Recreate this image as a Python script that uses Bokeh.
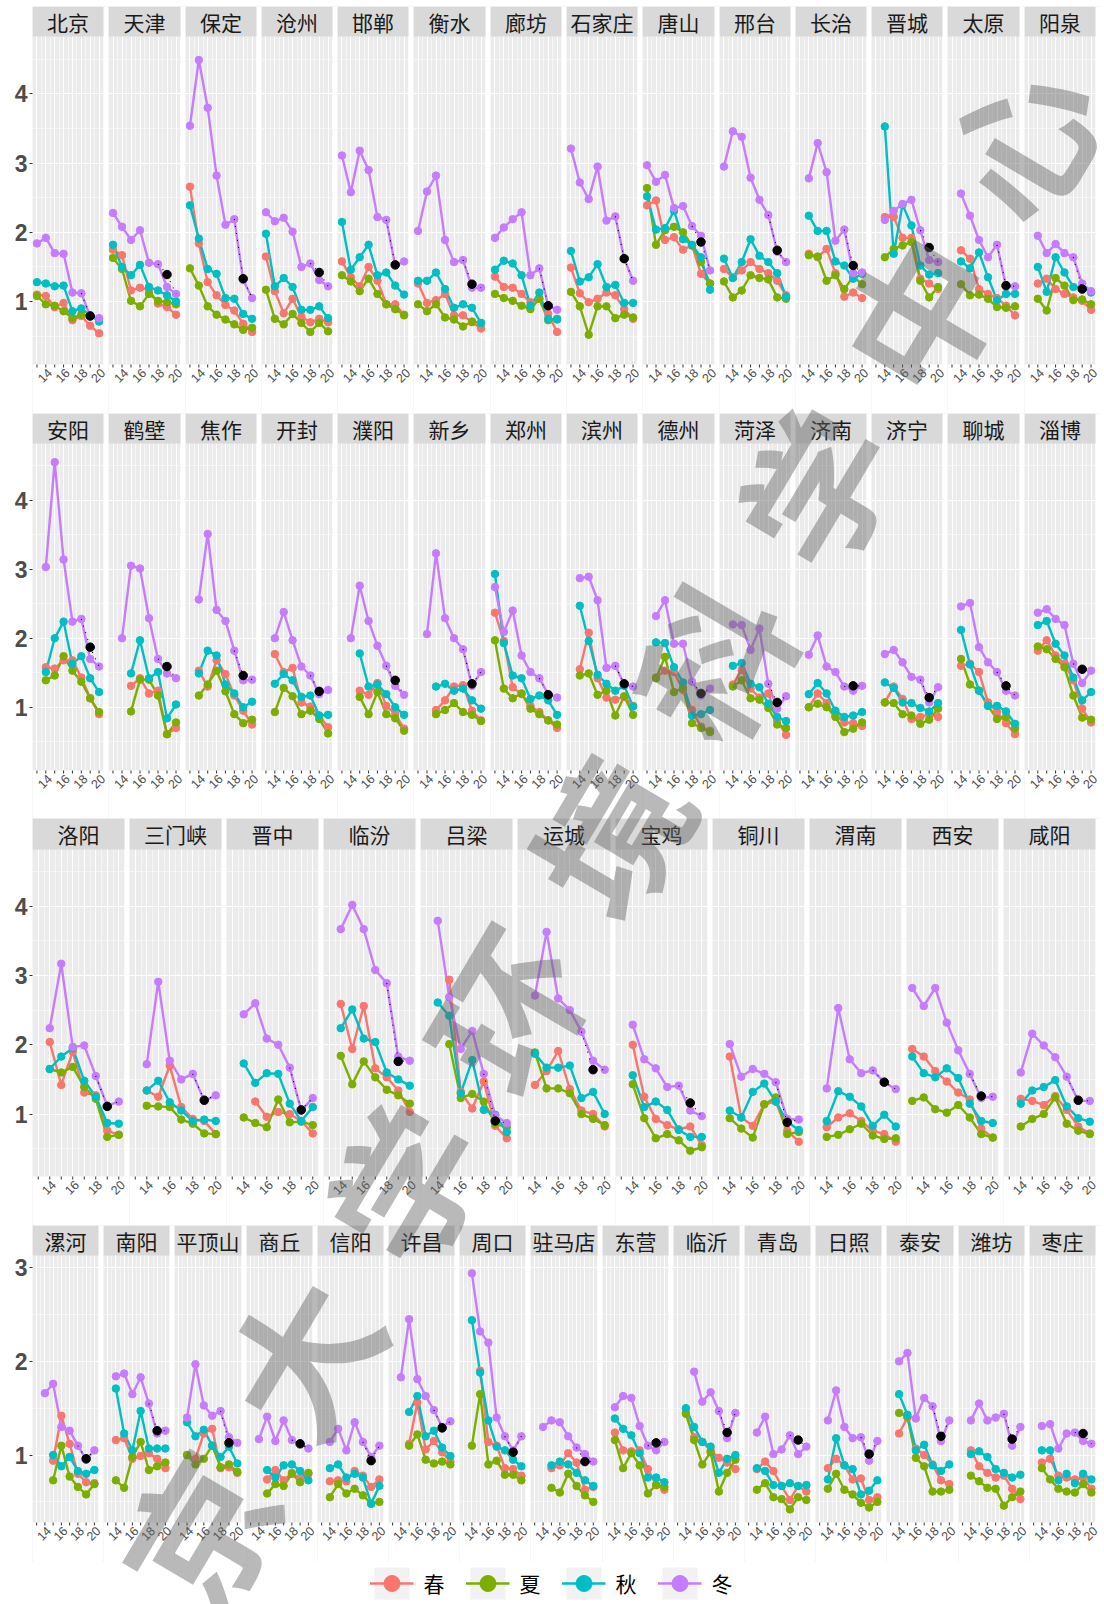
import math
from bokeh.plotting import figure
from bokeh.models import (FixedTicker, BoxAnnotation, Label, Legend, LegendItem, ColumnDataSource, Range1d)
from bokeh.layouts import column, row
from bokeh.embed import file_html
from bokeh.resources import INLINE

YEARS = [2013, 2014, 2015, 2016, 2017, 2018, 2019, 2020]
X_LABELS = {2013: "", 2014: "14", 2015: "", 2016: "16", 2017: "", 2018: "18", 2019: "", 2020: "20"}
SEASONS = ["春", "夏", "秋", "冬"]
COLORS = ["#F8766D", "#7CAE00", "#00BFC4", "#C77CFF"]
WATERMARK = "南京大学环境科学中心"

ROW1 = ["北京", "天津", "保定", "沧州", "邯郸", "衡水", "廊坊", "石家庄", "唐山", "邢台", "长治", "晋城", "太原", "阳泉"]
ROW2 = ["安阳", "鹤壁", "焦作", "开封", "濮阳", "新乡", "郑州", "滨州", "德州", "菏泽", "济南", "济宁", "聊城", "淄博"]
ROW3 = ["洛阳", "三门峡", "晋中", "临汾", "吕梁", "运城", "宝鸡", "铜川", "渭南", "西安", "咸阳"]
ROW4 = ["漯河", "南阳", "平顶山", "商丘", "信阳", "许昌", "周口", "驻马店", "东营", "临沂", "青岛", "日照", "泰安", "潍坊", "枣庄"]
Y_TICKS = [[1, 2, 3, 4], [1, 2, 3, 4], [1, 2, 3, 4], [1, 2, 3]]

N = None
SPRING = {
    "北京": [1.10, 1.08, 0.92, 0.98, 0.73, 0.79, 0.65, 0.54],
    "天津": [1.75, 1.67, 1.16, 1.20, 1.17, 0.97, 0.92, 0.81],
    "保定": [2.66, 1.84, 1.28, 1.09, 0.95, 0.87, 0.68, 0.56],
    "沧州": [1.65, 1.15, 0.83, 1.04, 0.78, 0.70, 0.75, 0.70],
    "邯郸": [1.58, 1.35, 1.22, 1.50, 1.30, 0.96, 0.96, 0.81],
    "衡水": [1.26, 0.98, 1.02, 1.11, 0.80, 0.80, 0.70, 0.61],
    "廊坊": [1.36, 1.21, 1.20, 1.11, 0.99, 1.04, 0.82, 0.56],
    "石家庄": [1.49, 1.12, 0.99, 1.04, 1.13, 1.09, 0.89, 0.75],
    "唐山": [2.39, 2.46, 1.89, 1.93, 1.75, 1.81, 1.40, 1.26],
    "邢台": [1.47, 1.35, 1.45, 1.57, 1.47, 1.41, 1.30, 1.09],
    "长治": [N, 1.69, 1.64, 1.76, 1.41, 1.07, 1.13, 1.05],
    "晋城": [N, 2.22, 2.22, 1.92, 1.92, 1.33, 1.26, 1.18],
    "太原": [N, 1.74, 1.62, 1.18, 1.11, 1.05, 0.94, 0.80],
    "阳泉": [N, 1.26, 1.33, 1.18, 1.11, 1.06, 1.01, 0.88],
    "安阳": [N, 1.58, 1.56, 1.68, 1.68, 1.43, 1.13, 0.90],
    "鹤壁": [N, N, 1.31, 1.42, 1.20, 1.24, 0.61, 0.70],
    "焦作": [N, 1.53, 1.30, 1.68, 1.48, 1.17, 0.95, 0.75],
    "开封": [N, 1.77, 1.51, 1.57, 1.07, 1.01, 0.88, 0.71],
    "濮阳": [N, N, 1.24, 1.18, 1.35, 1.02, 0.90, 0.69],
    "新乡": [N, N, 0.96, 1.10, 1.30, 1.32, 0.95, 0.81],
    "郑州": [2.37, 1.96, 1.29, 1.19, 1.02, 0.93, 0.81, 0.70],
    "滨州": [N, 1.55, 2.08, 1.42, 1.14, 1.11, 1.15, 1.02],
    "德州": [N, 1.43, 1.53, 1.51, 1.25, 0.96, 0.72, 0.66],
    "菏泽": [N, 1.33, 1.54, 1.27, 1.14, 1.20, 0.81, 0.60],
    "济南": [N, 1.00, 1.20, 1.06, 0.88, 0.78, 0.77, 0.73],
    "济宁": [N, 1.07, 1.30, 1.12, 0.83, 0.86, 0.90, 0.86],
    "聊城": [N, 1.60, 1.63, 1.51, 1.07, 0.93, 0.77, 0.61],
    "淄博": [N, 1.82, 1.97, 1.75, 1.63, 1.39, 0.98, 0.78],
    "洛阳": [N, 2.04, 1.42, 1.90, 1.31, 1.27, 0.76, 0.70],
    "三门峡": [N, 1.34, 1.25, 1.70, 1.10, 0.93, 0.90, 0.71],
    "晋中": [N, N, 1.18, 0.96, 1.03, 1.00, 0.90, 0.72],
    "临汾": [N, 2.59, 1.94, 2.56, 1.66, 1.53, 1.34, 1.03],
    "吕梁": [N, N, 2.94, 1.32, 1.08, 1.47, 0.83, 0.65],
    "运城": [N, 1.42, 1.62, 1.91, 1.36, 1.05, 1.00, 0.82],
    "宝鸡": [N, 2.00, 1.25, 0.93, 0.84, 0.78, 0.82, 0.55],
    "铜川": [N, 1.83, 0.95, 0.83, 1.14, 1.18, 0.76, 0.60],
    "渭南": [N, 0.81, 0.95, 1.01, 0.90, 0.76, 0.71, 0.60],
    "西安": [1.94, 1.83, 1.62, 1.47, 1.31, 1.21, 0.79, 0.66],
    "咸阳": [N, 1.22, 1.19, 1.13, 1.26, 1.06, 0.82, 0.72],
    "漯河": [N, N, 0.94, 1.42, 1.12, 0.80, 0.71, 0.70],
    "南阳": [N, 1.16, 1.18, 0.96, 0.99, 1.02, 0.96, 0.86],
    "平顶山": [N, 1.00, 0.96, 1.23, 1.28, 0.86, 0.87, 0.81],
    "商丘": [N, N, 0.74, 0.84, 0.73, 0.81, 0.75, 0.80],
    "信阳": [N, 0.72, 0.73, 0.72, 0.83, 0.78, 0.66, 0.74],
    "许昌": [N, N, 1.12, 1.56, 1.06, 1.15, 1.03, 0.93],
    "周口": [N, N, 1.90, 1.14, 1.10, 0.86, 0.85, 0.78],
    "驻马店": [N, N, 0.86, 0.89, 1.02, 0.92, 0.63, 0.66],
    "东营": [N, 1.24, 1.05, 1.04, 1.05, 0.85, 0.68, 0.63],
    "临沂": [N, 1.45, 1.19, 1.14, 1.05, 0.97, 0.92, 0.85],
    "青岛": [N, 0.85, 0.93, 0.83, 0.67, 0.52, 0.67, 0.61],
    "日照": [N, 0.86, 0.96, 0.89, 0.74, 0.75, 0.52, 0.55],
    "泰安": [N, 1.23, 1.40, 1.07, 1.00, 0.90, 0.73, 0.69],
    "潍坊": [N, 1.05, 0.88, 0.81, 0.76, 0.78, 0.64, 0.53],
    "枣庄": [N, 0.92, 0.96, 0.78, 0.76, 0.74, 0.76, 0.64],
}
SUMMER = {
    "北京": [1.08, 0.96, 0.94, 0.86, 0.76, 0.81, 0.80, 0.75],
    "天津": [1.63, 1.47, 1.01, 0.93, 1.11, 1.01, 0.99, 0.96],
    "保定": [1.48, 1.23, 0.93, 0.81, 0.74, 0.67, 0.59, 0.62],
    "沧州": [1.17, 0.75, 0.67, 0.82, 0.69, 0.56, 0.69, 0.57],
    "邯郸": [1.38, 1.29, 1.15, 1.33, 1.11, 0.96, 0.89, 0.80],
    "衡水": [0.96, 0.86, 0.96, 0.77, 0.74, 0.64, 0.71, 0.69],
    "廊坊": [1.11, 1.05, 1.01, 0.94, 0.89, 1.04, 0.73, 0.75],
    "石家庄": [1.14, 0.93, 0.52, 0.93, 0.93, 0.76, 0.81, 0.77],
    "唐山": [2.64, 1.82, 2.03, 2.08, 2.00, 1.81, 1.57, 1.26],
    "邢台": [1.29, 1.06, 1.16, 1.38, 1.34, 1.32, 1.06, 1.04],
    "长治": [N, 1.67, 1.65, 1.30, 1.38, 1.18, 1.36, 1.25],
    "晋城": [N, 1.64, 1.76, 1.81, 1.86, 1.30, 1.06, 1.21],
    "太原": [N, 1.25, 1.09, 1.10, 1.04, 0.92, 0.91, 0.93],
    "阳泉": [N, 1.04, 0.87, 1.34, 1.23, 1.02, 1.03, 0.96],
    "安阳": [N, 1.39, 1.46, 1.74, 1.53, 1.37, 1.13, 0.93],
    "鹤壁": [N, N, 0.94, 1.40, 1.40, 1.17, 0.61, 0.78],
    "焦作": [N, 1.17, 1.33, 1.53, 1.23, 0.90, 0.77, 0.82],
    "开封": [N, 0.93, 1.28, 1.16, 0.90, 0.95, 0.83, 0.62],
    "濮阳": [N, N, 1.15, 0.90, 1.22, 0.90, 0.84, 0.66],
    "新乡": [N, N, 0.90, 0.96, 1.06, 0.93, 0.89, 0.80],
    "郑州": [1.97, 1.27, 1.13, 1.20, 0.98, 0.90, 0.81, 0.75],
    "滨州": [N, 1.46, 1.49, 1.18, 1.24, 0.88, 1.16, 0.89],
    "德州": [N, 1.42, 1.73, 1.22, 1.28, 0.77, 0.70, 0.64],
    "菏泽": [N, 1.30, 1.39, 1.13, 1.11, 0.99, 0.75, 0.70],
    "济南": [N, 1.00, 1.05, 1.00, 0.86, 0.64, 0.69, 0.78],
    "济宁": [N, 1.07, 1.06, 0.90, 0.88, 0.76, 0.82, 0.98],
    "聊城": [N, 1.70, 1.33, 1.24, 1.02, 0.83, 0.86, 0.69],
    "淄博": [N, 1.88, 1.84, 1.70, 1.58, 1.17, 0.85, 0.82],
    "洛阳": [N, 1.65, 1.60, 1.68, 1.39, 1.22, 0.67, 0.70],
    "三门峡": [N, 1.12, 1.11, 1.10, 0.92, 0.86, 0.72, 0.71],
    "晋中": [N, 0.95, 0.87, 0.81, 1.21, 0.88, 0.89, 0.84],
    "临汾": [N, 1.84, 1.43, 1.76, 1.53, 1.35, 1.27, 1.15],
    "吕梁": [N, N, 2.01, 1.23, 1.29, 1.18, 0.86, 0.81],
    "运城": [N, 1.89, 1.37, 1.37, 1.30, 1.00, 0.93, 0.84],
    "宝鸡": [N, 1.43, 0.94, 0.65, 0.71, 0.62, 0.47, 0.52],
    "铜川": [N, 0.94, 0.79, 0.66, 1.14, 1.24, 0.71, 0.74],
    "渭南": [N, 0.67, 0.70, 0.78, 0.86, 0.69, 0.64, 0.65],
    "西安": [1.19, 1.24, 1.07, 1.02, 1.13, 0.95, 0.71, 0.66],
    "咸阳": [N, 0.82, 0.93, 1.00, 1.24, 0.86, 0.76, 0.71],
    "漯河": [N, N, 0.73, 1.10, 0.77, 0.66, 0.58, 0.69],
    "南阳": [N, 0.73, 0.65, 0.98, 1.14, 0.84, 0.88, 0.92],
    "平顶山": [N, 1.00, 0.90, 0.96, 1.10, 0.87, 0.90, 0.82],
    "商丘": [N, N, 0.59, 0.69, 0.67, 0.80, 0.71, 0.81],
    "信阳": [N, 0.55, 0.69, 0.59, 0.64, 0.57, 0.48, 0.50],
    "许昌": [N, N, 1.10, 1.22, 0.95, 0.91, 0.93, 0.90],
    "周口": [N, 1.10, 1.65, 0.90, 0.94, 0.79, 0.79, 0.73],
    "驻马店": [N, N, 0.65, 0.60, 0.80, 0.67, 0.57, 0.50],
    "东营": [N, 1.16, 0.86, 1.02, 0.89, 0.59, 0.68, 0.66],
    "临沂": [N, 1.44, 1.16, 0.90, 1.03, 0.61, 0.81, 0.95],
    "青岛": [N, 0.63, 0.70, 0.55, 0.53, 0.42, 0.55, 0.52],
    "日照": [N, 0.64, 0.80, 0.63, 0.58, 0.49, 0.44, 0.50],
    "泰安": [N, 1.45, 1.41, 0.97, 0.88, 0.61, 0.61, 0.63],
    "潍坊": [N, 0.78, 0.72, 0.65, 0.64, 0.46, 0.55, 0.61],
    "枣庄": [N, 0.86, 0.74, 0.64, 0.61, 0.60, 0.69, 0.60],
}
AUTUMN = {
    "北京": [1.28, 1.26, 1.22, 1.23, 0.86, 0.90, 0.80, 0.71],
    "天津": [1.82, 1.50, 1.38, 1.53, 1.21, 1.16, 1.09, 1.00],
    "保定": [2.39, 1.91, 1.47, 1.40, 1.05, 1.04, 0.82, 0.75],
    "沧州": [1.98, 1.22, 1.34, 1.21, 0.88, 0.88, 0.93, 0.76],
    "邯郸": [2.15, 1.46, 1.64, 1.82, 1.38, 1.42, 1.23, 1.10],
    "衡水": [1.30, 1.30, 1.42, 1.18, 0.91, 0.96, 0.91, 0.69],
    "廊坊": [1.46, 1.59, 1.55, 1.38, 0.94, 1.13, 0.75, 0.74],
    "石家庄": [1.73, 1.29, 1.35, 1.54, 1.21, 1.24, 0.98, 0.98],
    "唐山": [2.52, 2.04, 2.06, 2.31, 1.90, 1.82, 1.64, 1.17],
    "邢台": [1.62, 1.34, 1.57, 1.90, 1.66, 1.57, 1.41, 1.07],
    "长治": [N, 2.24, 2.02, 2.02, 1.58, 1.52, 1.33, 1.40],
    "晋城": [N, 3.53, 1.69, 2.40, 2.10, 1.52, 1.39, 1.41],
    "太原": [N, 1.58, 1.48, 1.71, 1.35, 1.02, 1.11, 1.11],
    "阳泉": [N, 1.50, 1.14, 1.64, 1.42, 1.21, 1.21, 1.13],
    "安阳": [N, 1.51, 2.00, 2.24, 1.63, 1.74, 1.42, 1.22],
    "鹤壁": [N, N, 1.49, 1.97, 1.42, 1.51, 0.84, 1.04],
    "焦作": [N, 1.49, 1.82, 1.75, 1.33, 1.20, 1.00, 1.08],
    "开封": [N, 1.34, 1.48, 1.39, 1.15, 1.17, 0.88, 0.89],
    "濮阳": [N, N, 1.78, 1.30, 1.33, 1.19, 1.00, 0.89],
    "新乡": [N, N, 1.30, 1.34, 1.24, 1.27, 1.10, 0.98],
    "郑州": [2.93, 1.93, 1.46, 1.42, 1.12, 1.17, 1.10, 0.89],
    "滨州": [N, 2.47, 1.96, 1.47, 1.34, 1.24, 1.31, 1.01],
    "德州": [N, 1.94, 1.93, 1.58, 1.36, 0.88, 0.90, 0.96],
    "菏泽": [N, 1.60, 1.64, 1.34, 1.29, 1.05, 0.86, 0.80],
    "济南": [N, 1.19, 1.35, 1.20, 0.95, 0.86, 0.88, 0.93],
    "济宁": [N, 1.36, 1.28, 1.07, 1.06, 0.99, 0.94, 1.06],
    "聊城": [N, 2.12, 1.62, 1.24, 1.02, 1.02, 0.94, 0.76],
    "淄博": [N, 2.19, 2.25, 1.92, 1.75, 1.43, 1.10, 1.22],
    "洛阳": [N, 1.65, 1.83, 1.95, 1.48, 1.25, 0.87, 0.86],
    "三门峡": [N, 1.34, 1.48, 1.17, 1.05, 0.90, 0.92, 0.90],
    "晋中": [N, 1.73, 1.45, 1.59, 1.58, 1.15, 0.90, 1.10],
    "临汾": [N, 2.24, 2.51, 2.09, 2.04, 1.60, 1.50, 1.41],
    "吕梁": [N, 2.61, 2.42, 1.30, 1.78, 1.06, 0.99, 0.74],
    "运城": [N, 1.87, 1.67, 1.67, 1.70, 1.23, 1.32, 1.00],
    "宝鸡": [N, 1.56, 1.10, 1.18, 1.06, 0.77, 0.67, 0.67],
    "铜川": [N, 1.05, 0.95, 1.32, 1.44, 1.18, 0.89, 0.77],
    "渭南": [N, 0.90, 1.33, 1.25, 1.11, 0.83, 0.99, 0.82],
    "西安": [1.83, 1.59, 1.53, 1.66, 1.52, 1.15, 0.90, 0.87],
    "咸阳": [N, 1.15, 1.34, 1.39, 1.49, 1.11, 0.94, 0.89],
    "漯河": [N, N, 1.00, 0.88, 0.98, 0.83, 0.80, 0.84],
    "南阳": [N, 1.71, 1.23, 1.05, 1.47, 1.07, 1.07, 1.07],
    "平顶山": [N, 1.35, 1.20, 1.27, 1.10, 0.98, 1.09, 0.91],
    "商丘": [N, N, 0.84, 0.76, 0.89, 0.90, 0.83, 0.73],
    "信阳": [N, 0.86, 0.90, 0.76, 0.80, 0.76, 0.48, 0.67],
    "许昌": [N, N, 1.46, 1.63, 1.20, 1.26, 1.08, 0.99],
    "周口": [N, 2.44, 1.88, 1.37, 1.09, 1.05, 0.95, 0.88],
    "驻马店": [N, N, 0.89, 0.93, 0.90, 0.81, 0.73, 0.67],
    "东营": [N, 1.39, 1.28, 1.21, 1.02, 0.76, 0.76, 0.71],
    "临沂": [N, 1.50, 1.30, 1.14, 1.09, 0.81, 0.96, 1.00],
    "青岛": [N, 0.86, 0.83, 0.68, 0.67, 0.70, 0.67, 0.68],
    "日照": [N, 0.74, 1.18, 0.89, 0.85, 0.58, 0.62, 0.73],
    "泰安": [N, 1.65, 1.43, 1.05, 1.11, 0.89, 0.83, 0.90],
    "潍坊": [N, 1.01, 1.04, 0.98, 0.85, 0.81, 0.76, 0.79],
    "枣庄": [N, 1.05, 1.05, 0.73, 0.80, 0.70, 0.80, 0.74],
}
WINTER = {
    "北京": [1.84, 1.92, 1.70, 1.69, 1.13, 1.12, 0.79, 0.76],
    "天津": [2.28, 2.08, 1.89, 2.03, 1.56, 1.54, 1.21, 1.11],
    "保定": [3.54, 4.49, 3.80, 2.82, 2.11, 2.19, 1.31, 1.05],
    "沧州": [2.29, 2.16, 2.21, 2.01, 1.50, 1.55, 1.31, 1.22],
    "邯郸": [3.11, 2.58, 3.18, 2.90, 2.22, 2.18, 1.52, 1.58],
    "衡水": [2.02, 2.59, 2.82, 1.89, 1.57, 1.60, 1.20, 1.20],
    "廊坊": [1.92, 2.07, 2.19, 2.29, 1.38, 1.48, 0.94, 0.88],
    "石家庄": [3.21, 2.72, 2.48, 2.95, 2.17, 2.23, 1.62, 1.30],
    "唐山": [2.97, 2.73, 2.83, 2.35, 2.38, 2.09, 1.95, 1.45],
    "邢台": [2.95, 3.46, 3.38, 2.79, 2.47, 2.25, 1.72, 1.57],
    "长治": [N, 2.78, 3.29, 2.87, 1.88, 2.04, 1.41, 1.42],
    "晋城": [N, 2.18, 2.31, 2.41, 2.47, 2.03, 1.60, 1.57],
    "太原": [N, 2.56, 2.24, 1.89, 1.64, 1.82, 1.22, 1.22],
    "阳泉": [N, 1.95, 1.70, 1.83, 1.70, 1.64, 1.26, 1.15],
    "安阳": [N, 3.03, 4.55, 3.14, 2.24, 2.28, 1.70, 1.59],
    "鹤壁": [N, 2.00, 3.05, 3.01, 2.29, 1.70, 1.49, 1.42],
    "焦作": [N, 2.56, 3.51, 2.41, 2.25, 1.82, 1.39, 1.40],
    "开封": [N, 2.00, 2.38, 1.97, 1.59, 1.46, 1.19, 1.25],
    "濮阳": [N, 2.00, 2.76, 2.25, 1.89, 1.60, 1.31, 1.18],
    "新乡": [N, 2.06, 3.23, 2.29, 2.00, 1.84, 1.31, 1.51],
    "郑州": [2.74, 2.09, 2.40, 1.75, 1.51, 1.42, 1.19, 1.14],
    "滨州": [N, 2.87, 2.89, 2.55, 1.57, 1.60, 1.33, 1.30],
    "德州": [N, 2.32, 2.55, 1.92, 1.92, 1.37, 1.17, 1.27],
    "菏泽": [N, 2.20, 2.19, 1.83, 2.14, 1.34, 0.98, 1.16],
    "济南": [N, 1.76, 2.04, 1.59, 1.51, 1.30, 1.24, 1.31],
    "济宁": [N, 1.77, 1.83, 1.65, 1.44, 1.40, 1.07, 1.29],
    "聊城": [N, 2.46, 2.51, 1.87, 1.65, 1.51, 1.24, 1.17],
    "淄博": [N, 2.37, 2.42, 2.28, 2.19, 1.63, 1.35, 1.53],
    "洛阳": [N, 2.24, 3.17, 1.97, 1.99, 1.55, 1.12, 1.18],
    "三门峡": [N, 1.72, 2.91, 1.77, 1.50, 1.58, 1.19, 1.27],
    "晋中": [N, 2.44, 2.60, 2.09, 2.00, 1.67, 1.05, 1.23],
    "临汾": [N, 3.67, 4.02, 3.67, 3.08, 2.89, 1.83, 1.77],
    "吕梁": [N, 3.79, 2.69, 1.94, 2.20, 1.58, 0.98, 0.87],
    "运城": [N, 2.71, 3.63, 2.67, 2.50, 2.19, 1.77, 1.64],
    "宝鸡": [N, 2.29, 1.79, 1.66, 1.39, 1.41, 1.05, 0.97],
    "铜川": [N, 2.01, 1.54, 1.65, 1.58, 1.46, 0.93, 0.92],
    "渭南": [N, 1.37, 2.53, 1.79, 1.59, 1.63, 1.46, 1.36],
    "西安": [2.82, 2.56, 2.82, 2.32, 1.92, 1.58, 1.23, 1.25],
    "咸阳": [N, 1.60, 2.16, 1.99, 1.82, 1.54, 1.19, 1.19],
    "漯河": [N, 1.66, 1.76, 1.30, 1.26, 1.10, 0.95, 1.05],
    "南阳": [N, 1.84, 1.87, 1.65, 1.83, 1.55, 1.23, 1.26],
    "平顶山": [N, 1.40, 1.97, 1.53, 1.42, 1.47, 1.19, 1.13],
    "商丘": [N, 1.17, 1.41, 1.15, 1.37, 1.16, 1.12, 1.07],
    "信阳": [N, 1.14, 1.28, 1.05, 1.35, 1.14, 0.98, 1.10],
    "许昌": [N, 1.83, 2.45, 1.81, 1.63, 1.48, 1.30, 1.36],
    "周口": [N, 2.94, 2.32, 2.20, 1.40, 1.20, 1.05, 1.20],
    "驻马店": [N, 1.30, 1.37, 1.35, 1.20, 1.08, 1.01, 0.93],
    "东营": [N, 1.51, 1.63, 1.61, 1.31, 1.10, 1.05, 1.14],
    "临沂": [N, N, 1.89, 1.57, 1.67, 1.47, 1.18, 1.45],
    "青岛": [N, 1.24, 1.41, 1.01, 1.06, 1.21, 1.01, 1.09],
    "日照": [N, 1.37, 1.69, 1.30, 1.18, 1.19, 0.94, 1.15],
    "泰安": [N, 2.00, 2.09, 1.39, 1.61, 1.52, 1.15, 1.37],
    "潍坊": [N, 1.37, 1.55, 1.37, 1.40, 1.44, 1.10, 1.30],
    "枣庄": [N, 1.31, 1.33, 1.07, 1.23, 1.24, 1.15, 1.12],
}
# black point: winter 2019 reference value
BLACK = {
    "北京": 0.79, "天津": 1.39, "保定": 1.33, "沧州": 1.42, "邯郸": 1.53, "衡水": 1.25, "廊坊": 0.94,
    "石家庄": 1.62, "唐山": 1.86, "邢台": 1.74, "长治": 1.52, "晋城": 1.78, "太原": 1.23, "阳泉": 1.18,
    "安阳": 1.87, "鹤壁": 1.59, "焦作": 1.46, "开封": 1.23, "濮阳": 1.39, "新乡": 1.34, "郑州": 1.18,
    "滨州": 1.34, "德州": 1.20, "菏泽": 1.07, "济南": 1.31, "济宁": 1.14, "聊城": 1.31, "淄博": 1.55,
    "洛阳": 1.11, "三门峡": 1.20, "晋中": 1.06, "临汾": 1.76, "吕梁": 0.90, "运城": 1.64, "宝鸡": 1.16,
    "铜川": 0.88, "渭南": 1.46, "西安": 1.26, "咸阳": 1.20,
    "漯河": 0.96, "南阳": 1.26, "平顶山": 1.13, "商丘": 1.12, "信阳": 0.94, "许昌": 1.29, "周口": 1.03,
    "驻马店": 0.93, "东营": 1.13, "临沂": 1.24, "青岛": 1.16, "日照": 1.01, "泰安": 1.20, "潍坊": 1.17,
    "枣庄": 1.23,
}

# ---------------- styling / layout ----------------
ROW_STYLE = [
    dict(y0=0.09, ytop=4.83, panel_px=328, strip_px=30, top_px=6, bottom_px=49),
    dict(y0=0.084, ytop=4.82, panel_px=327, strip_px=30, top_px=0, bottom_px=48),
    dict(y0=0.098, ytop=4.82, panel_px=327, strip_px=31, top_px=0, bottom_px=49),
    dict(y0=0.28, ytop=3.13, panel_px=267, strip_px=30, top_px=0, bottom_px=40),
]
FRAME_L, FRAME_R, GAP_PX, LAST_R = 32, 1095, 5, 7
X_START, X_END = 2012.5, 2020.5
CJK = "Noto Sans CJK SC"
SERIES = [SPRING, SUMMER, AUTUMN, WINTER]


def row_geometry(n):
    pitch = (FRAME_R - FRAME_L + GAP_PX) / n
    lefts = [round(FRAME_L + i * pitch) for i in range(n)]
    rights = [round(FRAME_L + i * pitch + pitch - GAP_PX) for i in range(n)]
    return lefts, rights


def make_panel(city, r, i, lefts, rights):
    st = ROW_STYLE[r]
    first = i == 0
    fw = rights[i] - lefts[i]
    gap_r = (lefts[i + 1] - rights[i]) if i + 1 < len(lefts) else LAST_R
    upx = (X_END - X_START) / fw                      # x units per pixel
    upy = (st["ytop"] - st["y0"]) / st["panel_px"]    # y units per pixel
    x_far = X_END + gap_r * upx                       # gap to the right of the panel
    y_low = st["y0"] - st["bottom_px"] * upy          # tick-label band below the panel
    y_end = st["ytop"] + st["strip_px"] * upy         # facet strip above the panel
    p = figure(frame_width=fw + gap_r, frame_height=st["bottom_px"] + st["panel_px"] + st["strip_px"],
               x_range=Range1d(X_START, x_far), y_range=Range1d(y_low, y_end),
               toolbar_location=None, output_backend="svg",
               x_axis_location=None, y_axis_location="left" if first else None,
               min_border_left=lefts[0] if first else 0, min_border_right=0,
               min_border_top=st["top_px"], min_border_bottom=0)
    p.background_fill_color = "#EBEBEB"
    p.border_fill_color = "white"
    p.outline_line_color = None

    yt = Y_TICKS[r]
    y_minor = [t - 0.5 for t in yt] + [yt[-1] + 0.5]
    p.ygrid.ticker = FixedTicker(ticks=yt, minor_ticks=y_minor)
    p.xgrid.ticker = FixedTicker(ticks=YEARS, minor_ticks=[y - 0.5 for y in YEARS] + [YEARS[-1] + 0.5])
    for g in (p.xgrid, p.ygrid):
        g.grid_line_color = "white"
        g.grid_line_width = 1.1
        g.minor_grid_line_color = "white"
        g.minor_grid_line_width = 0.5

    # white margins: label band below and gap on the right
    p.quad(left=X_START, right=x_far, bottom=y_low, top=st["y0"], fill_color="white", line_color=None)
    p.quad(left=X_END, right=x_far, bottom=y_low, top=y_end, fill_color="white", line_color=None)

    # x ticks and labels (ggplot style: rotated 45°, centred under the tick)
    p.segment(x0=YEARS, y0=[st["y0"]] * len(YEARS), x1=YEARS, y1=[st["y0"] - 3 * upy] * len(YEARS),
              line_color="#333333", line_width=1)
    for yv in YEARS:
        if X_LABELS[yv]:
            p.add_layout(Label(x=yv, y=st["y0"], text=X_LABELS[yv], angle=math.pi / 4,
                               text_align="center", text_baseline="middle", x_offset=-1, y_offset=-11,
                               text_font="Liberation Sans", text_font_size="12.5px",
                               text_color="#4D4D4D"))

    if first:
        ya = p.yaxis[0]
        ya.ticker = FixedTicker(ticks=yt)
        ya.major_label_text_font = "Liberation Sans"
        ya.major_label_text_font_style = "bold"
        ya.major_label_text_font_size = "23px"
        ya.major_label_text_color = "#4D4D4D"
        ya.major_label_standoff = 2
        ya.axis_line_color = None
        ya.minor_tick_line_color = None
        ya.major_tick_in = 0
        ya.major_tick_out = 3
        ya.major_tick_line_color = "#333333"

    for data, color in zip(SERIES, COLORS):
        vals = data[city]
        xs = [x for x, v in zip(YEARS, vals) if v is not None]
        ys = [v for v in vals if v is not None]
        p.line(xs, ys, line_color=color, line_width=2.4)
    for data, color in zip(SERIES, COLORS):
        vals = data[city]
        xs = [x for x, v in zip(YEARS, vals) if v is not None]
        ys = [v for v in vals if v is not None]
        p.scatter(xs, ys, size=7.5, color=color)

    w = WINTER[city]
    p.line(YEARS[5:8], [w[5], BLACK[city], w[7]], line_color="black", line_width=1.1, line_dash="1 6")
    p.scatter([YEARS[6]], [BLACK[city]], size=8.5, color="black")

    # facet strip
    p.add_layout(BoxAnnotation(bottom=st["ytop"], left=X_START, right=X_END,
                               fill_color="#D9D9D9", fill_alpha=1.0, line_color=None))
    p.add_layout(Label(x=(X_START + X_END) / 2, y=(st["ytop"] + y_end) / 2, text=city,
                       text_align="center", text_baseline="middle", text_font=CJK,
                       text_font_size="21px", text_color="#1A1A1A"))
    return p


rows = []
for r, cities in enumerate([ROW1, ROW2, ROW3, ROW4]):
    lefts, rights = row_geometry(len(cities))
    figs = [make_panel(c, r, i, lefts, rights) for i, c in enumerate(cities)]
    rows.append(row(*figs, spacing=0))

# legend
lg = figure(width=FRAME_R + LAST_R, height=42, toolbar_location=None, output_backend="svg",
            x_range=Range1d(0, 1), y_range=Range1d(0, 1), min_border=0)
lg.axis.visible = False
lg.grid.visible = False
lg.outline_line_color = None
lg.background_fill_color = "white"
items = []
for s, c in zip(SEASONS, COLORS):
    src = ColumnDataSource(dict(x=[float("nan")], y=[float("nan")]))
    bg = lg.quad(left="x", right="x", top="y", bottom="y", source=src, fill_color="#F2F2F2", line_color=None)
    ln = lg.line("x", "y", source=src, line_color=c, line_width=2.4)
    pt = lg.scatter("x", "y", source=src, color=c, size=7)
    items.append(LegendItem(label=s, renderers=[bg, ln, pt]))
legend = Legend(items=items, orientation="horizontal", location="center",
                glyph_width=44, glyph_height=40, label_text_font=CJK, label_text_font_size="21px",
                label_text_color="#000000", label_standoff=10, spacing=21, padding=0, margin=0,
                border_line_color=None, background_fill_alpha=0)
lg.add_layout(legend, "center")

layout = column(*rows, lg, spacing=0)
html = file_html(layout, INLINE)

# diagonal publisher watermark laid over the whole page
wm = ('<div style="position:fixed;left:0;top:0;width:100%;height:100%;overflow:hidden;'
      'pointer-events:none;z-index:50;">'
      '<div style="position:absolute;left:54px;top:1692px;transform-origin:0 50%;'
      'transform:rotate(-59.4deg);white-space:nowrap;font-family:\'Noto Sans CJK SC\';font-weight:700;'
      'font-size:150px;line-height:150px;letter-spacing:52px;color:rgba(100,100,100,0.45);">'
      + WATERMARK + '</div></div>')
html = html.replace("</body>", wm + "</body>")
open("out.html", "w").write(html)
